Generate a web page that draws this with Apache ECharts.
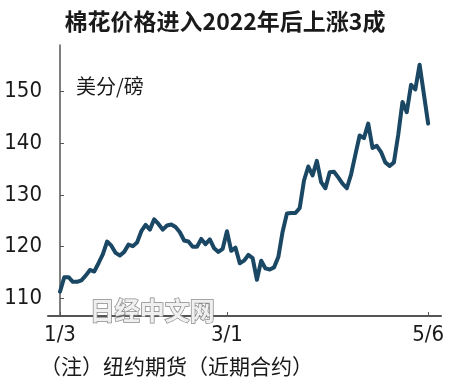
<!DOCTYPE html>
<html>
<head>
<meta charset="utf-8">
<script src="https://cdn.jsdelivr.net/npm/echarts@6/dist/echarts.min.js"></script>
<style>
  html, body { margin: 0; padding: 0; background: #ffffff; }
  #chart { width: 450px; height: 390px; }
</style>
</head>
<body>
<div id="chart"></div>
<script>
// Trading days (categories)
const dates = [
  '1/3','1/4','1/5','1/6','1/7','1/10','1/11','1/12','1/13','1/14','1/18','1/19','1/20','1/21','1/24','1/25','1/26','1/27','1/28','1/31',
  '2/1','2/2','2/3','2/4','2/7','2/8','2/9','2/10','2/11','2/14','2/15','2/16','2/17','2/18','2/22','2/23','2/24','2/25','2/28',
  '3/1','3/2','3/3','3/4','3/7','3/8','3/9','3/10','3/11','3/14','3/15','3/16','3/17','3/18','3/21','3/22','3/23','3/24','3/25','3/28','3/29','3/30','3/31',
  '4/1','4/4','4/5','4/6','4/7','4/8','4/11','4/12','4/13','4/14','4/18','4/19','4/20','4/21','4/22','4/25','4/26','4/27','4/28','4/29',
  '5/2','5/3','5/4','5/5','5/6'
];
// Cotton price, US cents per pound
const prices = [
  111.3,114.1,114.1,113.2,113.2,113.5,114.4,115.5,115.2,116.8,
  118.5,121.0,120.2,118.8,118.3,119.0,120.4,120.1,120.8,123.0,
  124.2,123.3,125.3,124.4,123.3,124.1,124.3,123.8,122.8,121.2,
  121.0,120.0,120.0,121.5,120.5,121.4,119.7,119.0,119.6,123.0,
  119.2,119.8,116.8,117.3,118.4,117.8,113.6,117.3,115.8,115.6,
  116.0,118.0,122.9,126.4,126.5,126.5,127.5,132.8,135.5,133.8,
  136.6,132.5,131.3,134.4,134.5,133.4,132.2,131.3,134.0,137.8,
  141.5,141.0,143.8,139.1,139.5,138.3,136.3,135.6,136.3,141.6,
  148.0,146.0,151.3,150.4,155.2,149.5,143.8
];
const yTickValues = [110, 120, 130, 140, 150];
const xTickLabels = ['1/3', '3/1', '5/6'];

const titleText = '棉花价格进入2022年后上涨3成';
const unitText = '美分/磅';
const noteText = '（注）纽约期货（近期合约）';
const watermarkText = '日经中文网';

const xTickIdx = xTickLabels.map(l => dates.indexOf(l));
const seriesData = prices.map((v, i) => [i, v]);

const chart = echarts.init(document.getElementById('chart'), null, { renderer: 'canvas' });
const txt = '#1a1a1a';
const axisCol = '#555555';
const numFont = "'DejaVu Sans Condensed', 'Roboto', sans-serif";
const cjkFont = "'Noto Sans CJK SC', sans-serif";

chart.setOption({
  backgroundColor: '#ffffff',
  animation: false,
  title: {
    text: titleText,
    left: 'center',
    top: 5,
    textStyle: { fontFamily: cjkFont, fontSize: 23, fontWeight: 'bold', color: txt }
  },
  grid: { left: 48, right: 9, top: 45, bottom: 74, containLabel: false },
  xAxis: {
    type: 'value',
    min: -2.8,
    max: 89,
    axisLine: { show: true, onZero: false, lineStyle: { color: axisCol, width: 2 } },
    axisTick: { show: true, inside: true, length: 4, customValues: xTickIdx, lineStyle: { color: axisCol, width: 1 } },
    axisLabel: {
      show: true, customValues: xTickIdx, margin: 8,
      formatter: v => dates[Math.round(v)] || '',
      fontFamily: numFont, fontSize: 22, color: txt
    },
    splitLine: { show: false }
  },
  yAxis: {
    type: 'value',
    min: 106.6,
    max: 159,
    axisLine: { show: true, lineStyle: { color: axisCol, width: 1.5 } },
    axisTick: { show: true, inside: true, length: 4, customValues: yTickValues, lineStyle: { color: axisCol, width: 1 } },
    axisLabel: { show: true, customValues: yTickValues, margin: 6, fontFamily: numFont, fontSize: 22, color: txt },
    splitLine: { show: false }
  },
  series: [{
    type: 'line',
    data: seriesData,
    showSymbol: false,
    symbol: 'none',
    lineStyle: { color: '#1a4763', width: 4, join: 'round', cap: 'round' },
    z: 3
  }],
  graphic: [
    {
      type: 'text', left: 76, top: 76, z: 10,
      style: { text: unitText, font: "20px 'Noto Sans CJK SC', sans-serif", fill: txt }
    },
    {
      type: 'text', left: 40, top: 356, z: 10,
      style: { text: noteText, font: "21px 'Noto Sans CJK SC', sans-serif", fill: txt }
    },
    {
      type: 'text', left: 89, top: 297, z: 20,
      style: {
        text: watermarkText,
        font: "bold 25px 'Noto Sans CJK SC', sans-serif",
        fill: '#f0f0f0', stroke: '#8a8a8a', lineWidth: 1.5
      }
    }
  ]
});
</script>
</body>
</html>
